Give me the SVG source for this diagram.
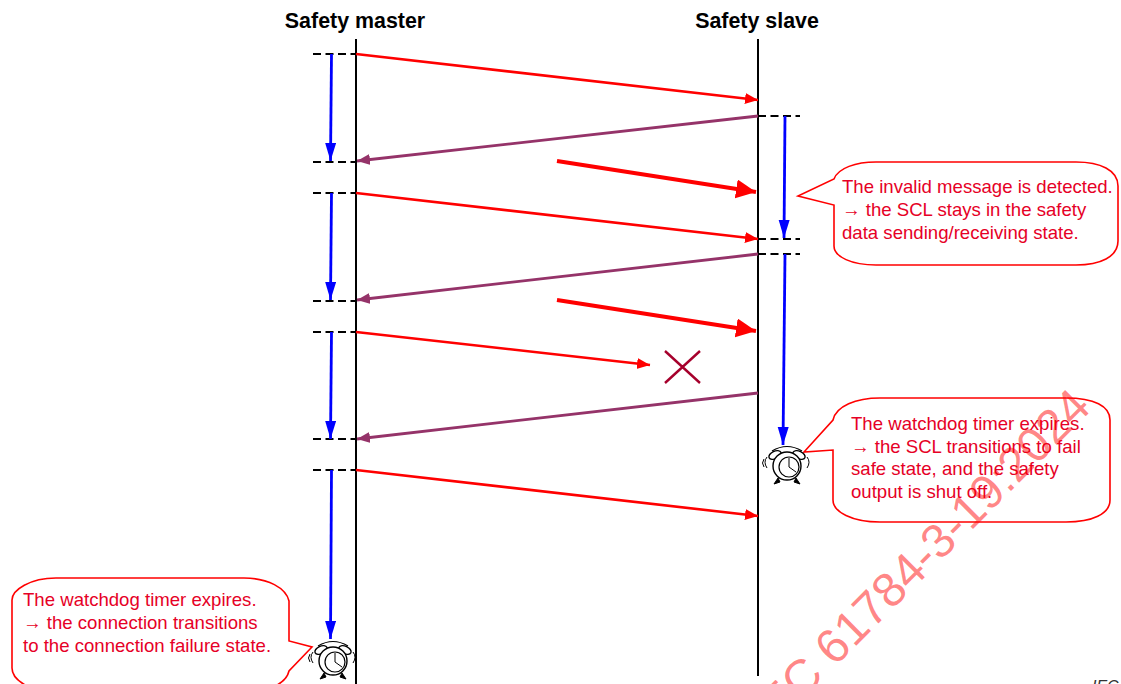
<svg xmlns="http://www.w3.org/2000/svg" width="1121" height="684" viewBox="0 0 1121 684">
<style>
text{font-family:"Liberation Sans",Arial,sans-serif}
.t{font-size:21.400px;font-weight:bold;fill:#000}
.b{font-size:18.600px;fill:#e60026}
.bub{fill:#fff;stroke:#f00;stroke-width:1.6}
.life{stroke:#000;stroke-width:2;fill:none}
.dash{stroke:#000;stroke-width:1.8;stroke-dasharray:8 4.5;fill:none}
.red{stroke:#f00;stroke-width:2.600;fill:none;marker-end:url(#mr)}
.thick{stroke:#f00;stroke-width:4;fill:none;marker-end:url(#mt)}
.pur{stroke:#953369;stroke-width:2.800;fill:none;marker-end:url(#mp)}
.blue{stroke:#00f;stroke-width:2.800;fill:none;marker-end:url(#mb)}
.ck{fill:#fff;stroke:#000;stroke-width:1.4}
</style>
<defs>
<marker id="mr" markerUnits="userSpaceOnUse" markerWidth="15" markerHeight="13" refX="13" refY="5.500" orient="auto"><path d="M0 0L13 5.500L0 11Z" fill="#f00"/></marker>
<marker id="mt" markerUnits="userSpaceOnUse" markerWidth="22" markerHeight="20" refX="20" refY="9.500" orient="auto"><path d="M0 0L20 9.500L0 19Z" fill="#f00"/></marker>
<marker id="mp" markerUnits="userSpaceOnUse" markerWidth="15" markerHeight="13" refX="13" refY="5.500" orient="auto"><path d="M0 0L13 5.500L0 11Z" fill="#953369"/></marker>
<marker id="mb" markerUnits="userSpaceOnUse" markerWidth="20" markerHeight="14" refX="18" refY="5.500" orient="auto"><path d="M0 0L18 5.500L0 11Z" fill="#00f"/></marker>
<g id="clock">
<path d="M-20 -7Q-24 -2 -20 4M-23 -5Q-26 -1 -23 3M20 -7Q24 -2 20 4" fill="none" stroke="#000" stroke-width="1"/>
<path d="M-9 14L-13 20L-7 18ZM9 14L13 20L7 18Z" fill="#000" stroke="#000"/>
<path d="M-15 -13Q0 -22 15 -13" fill="none" stroke="#000" stroke-width="1.200"/>
<ellipse class="ck" cx="-12" cy="-9" rx="6.500" ry="3.800" transform="rotate(-25 -12 -9)"/>
<ellipse class="ck" cx="12" cy="-9" rx="6.500" ry="3.800" transform="rotate(25 12 -9)"/>
<circle class="ck" cx="0" cy="2" r="14" stroke-width="2"/>
<circle cx="2" cy="3" r="10" fill="none" stroke="#000" stroke-width="1.200"/>
<path d="M2 -6L2 3L9 8" fill="none" stroke="#000" stroke-width="1"/>
</g>
</defs>

<g id="connectors">
<path class="life" d="M356 39V684"/>
<path class="life" d="M758 39V676"/>
<path class="dash" d="M313 54H356M313 162H356M313 193H356M313 301H356M313 332H356M313 439H356M313 470H356"/>
<path class="dash" d="M758 116H800M758 239H800M758 254H800"/>
<path class="blue" d="M331.500 54L330.500 161"/>
<path class="blue" d="M331.500 193L330.500 300"/>
<path class="blue" d="M331.500 332L330.500 439"/>
<path class="blue" d="M331.500 470L330.500 639"/>
<path class="blue" d="M785 116L784 238"/>
<path class="blue" d="M785 254L783 445"/>
<path class="red" d="M356 54L758 100"/>
<path class="red" d="M356 193L758 239"/>
<path class="red" d="M356 332L650 365"/>
<path class="red" d="M356 470L758 516"/>
<path class="pur" d="M758 116L357 161"/>
<path class="pur" d="M758 254L357 300"/>
<path class="pur" d="M758 393L357 439"/>
<path class="thick" d="M557 161L756 192"/>
<path class="thick" d="M557 300L756 331"/>
<path d="M665 351L700 383M700 351L665 383" stroke="#a6002c" stroke-width="2.400" fill="none"/>
</g>

<g id="headers">
<text class="t" x="355" y="28" text-anchor="middle">Safety master</text>
<text class="t" x="757" y="28" text-anchor="middle">Safety slave</text>
</g>

<g id="note-invalid">
<path class="bub" d="M834 179C838 168 856 162 876 162H1076C1100 162 1118 170 1118 186V241C1118 257 1100 265 1076 265H876C852 265 834 257 834 246V205L798 196Z"/>
<text class="b" x="842" y="193">The invalid message is detected.</text>
<text class="b" x="842" y="216">→ the SCL stays in the safety</text>
<text class="b" x="842" y="239">data sending/receiving state.</text>
</g>

<g id="note-slave">
<path class="bub" d="M833 420C836 406 856 398 880 398H1066C1094 398 1110 406 1110 420V500C1110 514 1092 522 1066 522H880C852 522 833 512 833 500V450L804 452Z"/>
<text class="b" x="851" y="430">The watchdog timer expires.</text>
<text class="b" x="851" y="452.500">→ the SCL transitions to fail</text>
<text class="b" x="851" y="475">safe state, and the safety</text>
<text class="b" x="851" y="497.500">output is shut off.</text>
</g>

<g id="note-master">
<path class="bub" d="M289 641V601C286 588 268 578 244 578H56C30 578 12 590 12 600V668C12 680 30 692 56 692H244C268 692 286 684 289 671L312 647Z"/>
<text class="b" x="23" y="606">The watchdog timer expires.</text>
<text class="b" x="23" y="629">→ the connection transitions</text>
<text class="b" x="23" y="651.500">to the connection failure state.</text>
</g>

<use id="clock-slave" href="#clock" x="787" y="464"/>
<use id="clock-master" href="#clock" x="333" y="659"/>

<g id="iec"><text x="1092" y="692" font-size="16" font-style="italic" fill="#333">IEC</text></g>

<g id="watermark"><text transform="translate(769 733) rotate(-45)" font-size="48" fill="#f00" fill-opacity=".48" textLength="458" lengthAdjust="spacing">IEC 61784-3-19:2024</text></g>
</svg>
